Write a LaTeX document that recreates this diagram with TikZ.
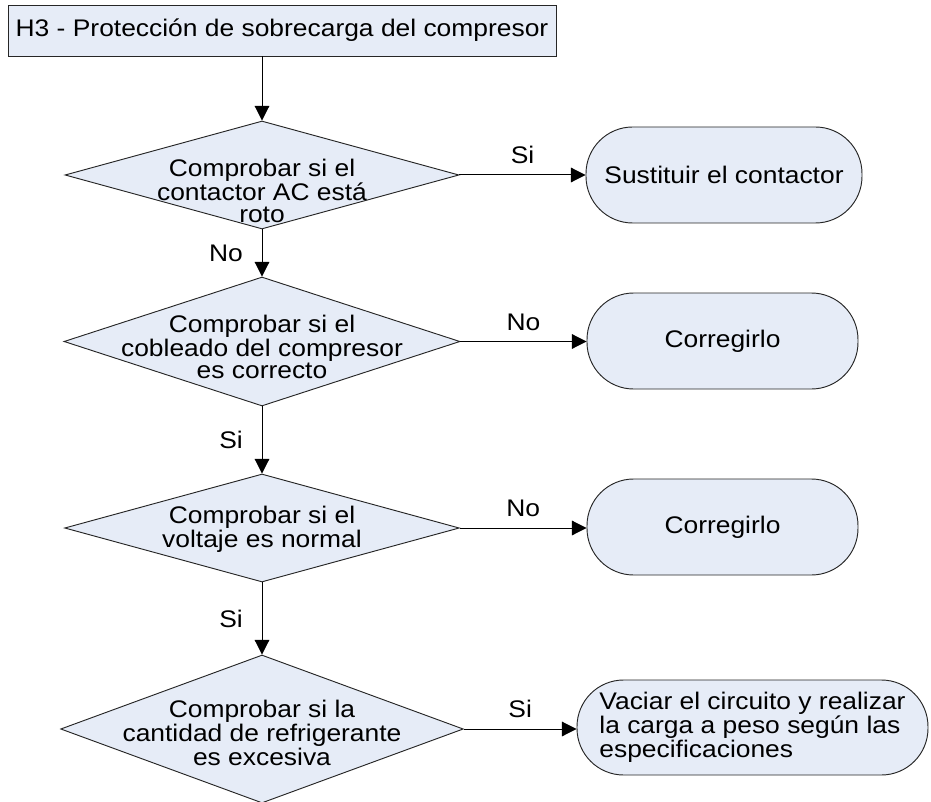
\documentclass[tikz,border=0pt]{standalone}
\usepackage{fontspec}
\setmainfont[FakeStretch=1.1]{Liberation Sans}
\usetikzlibrary{positioning,arrows.meta,calc,shapes.geometric}
\definecolor{azulclaro}{RGB}{230,236,247}

\begin{document}
\begin{tikzpicture}[x=0.75pt,y=-0.75pt,every node/.style={font=\fontsize{18}{16.5}\selectfont}]
\tikzset{
  caja/.style={draw=black!85,fill=azulclaro,line width=0.7pt},
  rombo/.style={caja,diamond,inner sep=0pt},
  fin/.style={caja,rectangle,rounded corners=35pt,align=center},
  flecha/.style={draw=black,line width=0.75pt,-{Triangle[length=11pt,width=11pt]}},
  etiq/.style={inner sep=4pt}
}
\useasboundingbox (0,0) rectangle (931,802);
% titulo
\node[caja,minimum width=411pt,minimum height=38.25pt,inner sep=0pt] (titulo) at (282,30.5) {H3 - Protección de sobrecarga del compresor};
% rombos
\node[rombo,minimum width=295.5pt,minimum height=81pt] (d1) at (262,175) {};
\node[align=center] (t1) at ([yshift=-12pt]d1.center) {Comprobar si el\\contactor AC está\\roto};
\node[rombo,minimum width=297pt,minimum height=96.75pt] (d2) at (262,341.5) {};
\node[align=center] (t2) at ([yshift=-4pt]d2.center) {Comprobar si el\\cobleado del compresor\\es correcto};
\node[rombo,minimum width=296pt,minimum height=81pt] (d3) at (262,528) {};
\node[align=center] (t3) at ([yshift=-1pt]d3.center) {Comprobar si el\\voltaje es normal};
\node[rombo,minimum width=302pt,minimum height=111pt] (d4) at (262,729) {};
\node[align=center] (t4) at ([yshift=-3pt]d4.center) {Comprobar si la\\cantidad de refrigerante\\es excesiva};
% cajas finales
\node[fin,minimum width=207pt,minimum height=72pt] (b1) at (724,175) {Sustituir el contactor};
\node[fin,minimum width=203.25pt,minimum height=72pt] (b2) at (722.5,341) {Corregirlo};
\node[fin,minimum width=203.25pt,minimum height=72pt] (b3) at (722.5,527) {Corregirlo};
\node[fin,minimum width=263.25pt,minimum height=71.25pt,align=left] (b4) at (752.5,727.5) {Vaciar el circuito y realizar\\la carga a peso según las\\especificaciones};
% flechas
\draw[flecha] (titulo.south -| d1.north) -- (d1.north);
\draw[flecha] (d1.east) -- node[etiq,above=4pt] {Si} (b1.west);
\draw[flecha] (d1.south) -- node[etiq,left=10pt] {No} (d2.north);
\draw[flecha] (d2.east) -- node[etiq,above=4pt] {No} (d2.east -| b2.west);
\draw[flecha] (d2.south) -- node[etiq,left=10pt] {Si} (d3.north);
\draw[flecha] (d3.east) -- node[etiq,above=4pt] {No} (d3.east -| b3.west);
\draw[flecha] (d3.south) -- node[etiq,left=10pt] {Si} (d4.north);
\draw[flecha] (d4.east) -- node[etiq,above=4pt] {Si} (d4.east -| b4.west);
\end{tikzpicture}
\end{document}
